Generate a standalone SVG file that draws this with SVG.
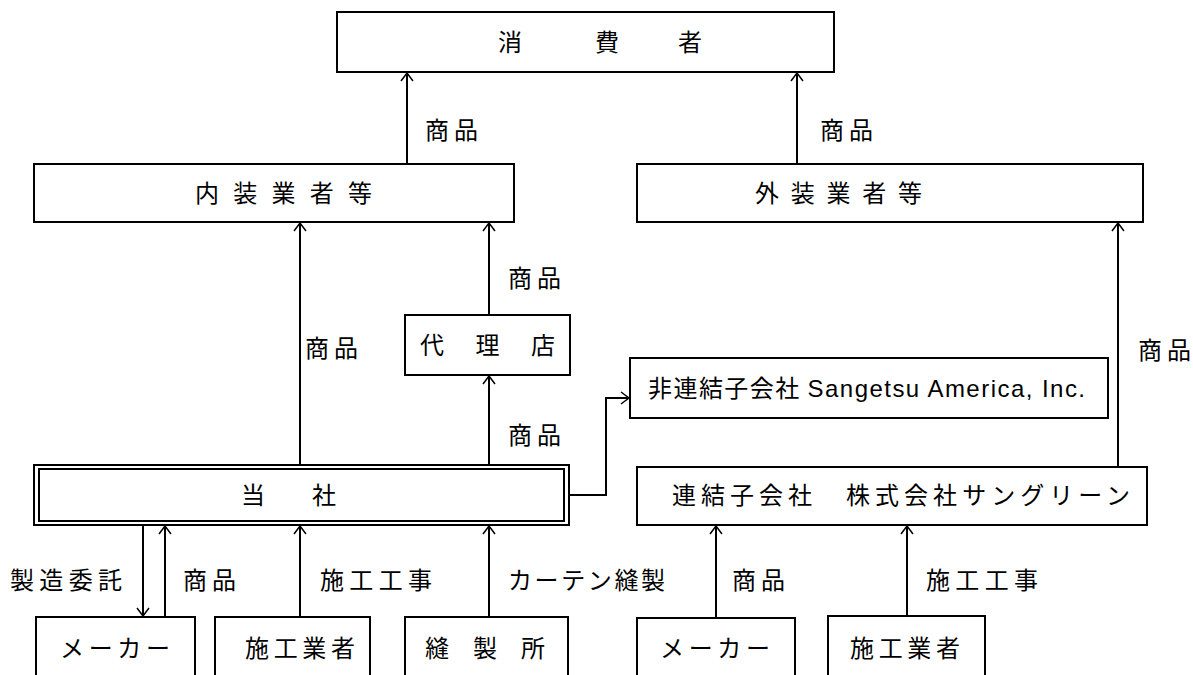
<svg xmlns="http://www.w3.org/2000/svg" width="1193" height="675" viewBox="0 0 1193 675">
<defs>
<style>
.box{fill:#fff;stroke:#000;stroke-width:2}
.ln{fill:none;stroke:#000;stroke-width:2}
text{font-family:"Noto Sans CJK JP","MS Gothic",sans-serif;font-size:24px;fill:#000}
.n{font-family:"Liberation Sans","Noto Sans CJK JP",sans-serif}
</style>
<marker id="ah" markerWidth="20" markerHeight="20" refX="10" refY="10" orient="auto" markerUnits="userSpaceOnUse">
<path d="M2,4 L10,10 L2,16" fill="none" stroke="#000" stroke-width="1.5"/>
</marker>
</defs>
<rect width="1193" height="675" fill="#fff"/>
<g id="connectors">
<line class="ln" x1="407" y1="164" x2="407" y2="73" marker-end="url(#ah)"/>
<line class="ln" x1="797" y1="164" x2="797" y2="73" marker-end="url(#ah)"/>
<line class="ln" x1="300" y1="465" x2="300" y2="223" marker-end="url(#ah)"/>
<line class="ln" x1="489" y1="315" x2="489" y2="223" marker-end="url(#ah)"/>
<line class="ln" x1="489" y1="465" x2="489" y2="376" marker-end="url(#ah)"/>
<polyline class="ln" points="570,495 606,495 606,398 629,398" marker-end="url(#ah)"/>
<line class="ln" x1="1118" y1="467" x2="1118" y2="223" marker-end="url(#ah)"/>
<line class="ln" x1="143" y1="526" x2="143" y2="616" marker-end="url(#ah)"/>
<line class="ln" x1="165" y1="617" x2="165" y2="526" marker-end="url(#ah)"/>
<line class="ln" x1="300" y1="617" x2="300" y2="526" marker-end="url(#ah)"/>
<line class="ln" x1="489" y1="617" x2="489" y2="526" marker-end="url(#ah)"/>
<line class="ln" x1="716" y1="618" x2="716" y2="526" marker-end="url(#ah)"/>
<line class="ln" x1="907" y1="616" x2="907" y2="526" marker-end="url(#ah)"/>
<text x="425" y="139" textLength="53">商品</text>
<text x="820" y="139" textLength="53">商品</text>
<text x="508" y="287" textLength="53">商品</text>
<text x="305" y="357" textLength="53">商品</text>
<text x="508" y="444" textLength="53">商品</text>
<text x="1138" y="359" textLength="53">商品</text>
<text x="10" y="589" textLength="112">製造委託</text>
<text x="183" y="589" textLength="53">商品</text>
<text x="320" y="589" textLength="112">施工工事</text>
<text x="508" y="589" textLength="157">カーテン縫製</text>
<text x="732" y="589" textLength="53">商品</text>
<text x="926" y="589" textLength="112">施工工事</text>
</g>
<g id="consumer">
<rect class="box" x="337" y="12" width="497" height="60"/>
<text x="498" y="51">消</text><text x="595" y="51">費</text><text x="678" y="51">者</text>
</g>
<g id="interior">
<rect class="box" x="34" y="164" width="480" height="58"/>
<text x="195" y="202" textLength="177">内 装 業 者 等</text>
</g>
<g id="exterior">
<rect class="box" x="637" y="164" width="506" height="58"/>
<text x="755" y="202" textLength="167">外 装 業 者 等</text>
</g>
<g id="agency">
<rect class="box" x="405" y="315" width="165" height="60"/>
<text x="420" y="354" textLength="135">代 理 店</text>
</g>
<g id="unconsolidated">
<rect class="box" x="630" y="358" width="478" height="60"/>
<text x="648" y="397" textLength="437">非連結子会社 <tspan class="n">Sangetsu America, Inc.</tspan></text>
</g>
<g id="company">
<rect class="box" x="34" y="465" width="535" height="60"/>
<rect class="box" x="39" y="469" width="525" height="52"/>
<text x="241" y="504">当</text><text x="312" y="504">社</text>
</g>
<g id="consolidated">
<rect class="box" x="637" y="467" width="510" height="58"/>
<text x="672" y="504" textLength="458">連結子会社　株式会社サングリーン</text>
</g>
<g id="maker1">
<rect class="box" x="36" y="617" width="159" height="70"/>
<text x="60" y="657" textLength="110">メーカー</text>
</g>
<g id="contractor1">
<rect class="box" x="215" y="617" width="155" height="70"/>
<text x="245" y="657" textLength="110">施工業者</text>
</g>
<g id="sewing">
<rect class="box" x="405" y="617" width="163" height="70"/>
<text x="425" y="657" textLength="120">縫 製 所</text>
</g>
<g id="maker2">
<rect class="box" x="637" y="618" width="158" height="70"/>
<text x="660" y="657" textLength="110">メーカー</text>
</g>
<g id="contractor2">
<rect class="box" x="828" y="616" width="157" height="70"/>
<text x="850" y="657" textLength="110">施工業者</text>
</g>
</svg>
